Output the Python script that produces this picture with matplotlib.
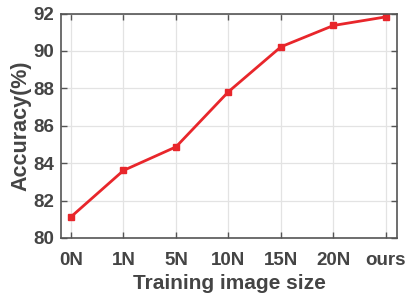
import numpy as np
import matplotlib
matplotlib.use('Agg')
import matplotlib.pyplot as plt

# data
categories = ['0N', '1N', '5N', '10N', '15N', '20N', 'ours']
accuracy = [81.13, 83.61, 84.87, 87.82, 90.22, 91.36, 91.82]
yticks = [80, 82, 84, 86, 88, 90, 92]

plt.rcParams['font.family'] = ['Liberation Sans', 'DejaVu Sans']
plt.rcParams['font.weight'] = 'bold'

fig = plt.figure(figsize=(4.06, 2.96), dpi=100)
ax = fig.add_axes([61/406, 1 - 238/296, (397-61)/406, (238-13.5)/296])

x = np.arange(len(categories))
ax.plot(x, accuracy, color='#e8262b', linewidth=2, marker='s', markersize=4.5)

ax.set_xlim(-0.19, 6.21)
ax.set_ylim(80, 92)
ax.set_xticks(x)
ax.set_xticklabels(categories)
ax.set_yticks(yticks)
ax.grid(True, color='#e3e3e3', linewidth=0.9)
ax.set_axisbelow(True)

gray = '#444444'
for s in ax.spines.values():
    s.set_color('#555555')
    s.set_linewidth(1.2)
ax.tick_params(direction='in', top=True, right=True, length=4, width=1,
               color='#555555', labelcolor=gray, labelsize=13.5, pad=5)
ax.tick_params(axis='x', pad=10)
ax.set_xlabel('Training image size', fontsize=15, color=gray, fontweight='bold', labelpad=4)
ax.set_ylabel('Accuracy(%)', fontsize=15.5, color=gray, fontweight='bold', labelpad=1)

fig.savefig('out.png', dpi=100)
